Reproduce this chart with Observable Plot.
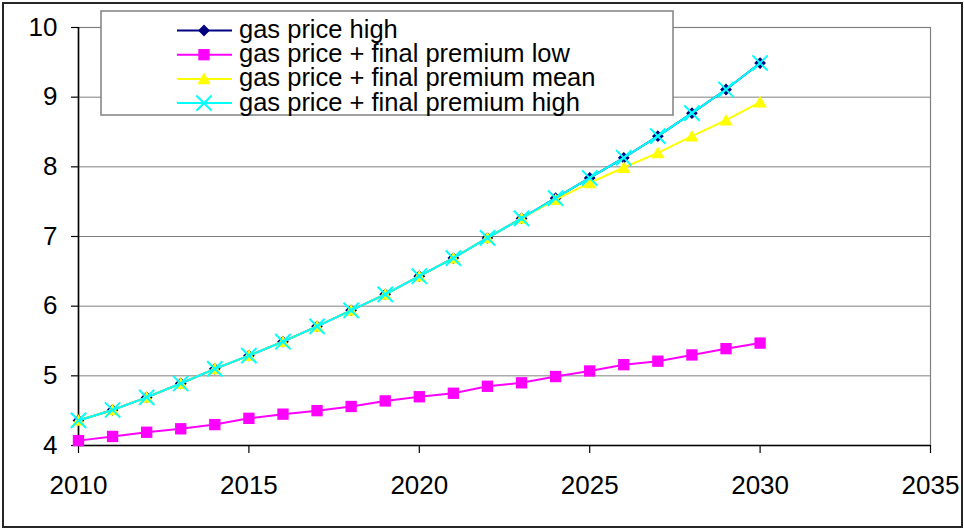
<!DOCTYPE html>
<html>
<head>
<meta charset="utf-8">
<script src="https://cdn.jsdelivr.net/npm/d3@7"></script>
<script src="https://cdn.jsdelivr.net/npm/@observablehq/plot@0.6"></script>
<style>
  html, body { margin: 0; padding: 0; background: #fff; }
  #wrap { position: relative; width: 964px; height: 529px; font-family: "Liberation Sans", Arial, sans-serif; }
  #border { position: absolute; left: 2px; top: 2px; width: 961px; height: 526px; box-sizing: border-box; border: 2px solid #262626; pointer-events: none; }
  #legend { position: absolute; left: 0; top: 0; pointer-events: none; }
</style>
</head>
<body>
<div id="wrap"><div id="chart"></div><svg id="legend" width="964" height="529"></svg><div id="border"></div></div>
<script>
const years = [2010, 2011, 2012, 2013, 2014, 2015, 2016, 2017, 2018, 2019, 2020, 2021, 2022, 2023, 2024, 2025, 2026, 2027, 2028, 2029, 2030];
const gasPriceHigh = [4.36, 4.51, 4.69, 4.89, 5.10, 5.29, 5.49, 5.71, 5.94, 6.17, 6.43, 6.69, 6.98, 7.26, 7.55, 7.84, 8.13, 8.44, 8.77, 9.11, 9.49];
const premiumLow = [4.07, 4.13, 4.19, 4.24, 4.30, 4.39, 4.45, 4.50, 4.56, 4.64, 4.70, 4.75, 4.85, 4.90, 4.99, 5.07, 5.16, 5.21, 5.30, 5.39, 5.47];
const premiumMean = [4.36, 4.51, 4.69, 4.89, 5.10, 5.29, 5.49, 5.71, 5.94, 6.17, 6.43, 6.69, 6.98, 7.26, 7.53, 7.77, 7.99, 8.20, 8.44, 8.67, 8.93];
const premiumHigh = [4.36, 4.51, 4.69, 4.89, 5.10, 5.29, 5.49, 5.71, 5.94, 6.17, 6.43, 6.69, 6.98, 7.26, 7.55, 7.84, 8.13, 8.44, 8.77, 9.11, 9.49];
const seriesNames = ["gas price high", "gas price + final premium low", "gas price + final premium mean", "gas price + final premium high"];
const xTicks = [2010, 2015, 2020, 2025, 2030, 2035];
const yTicks = [4, 5, 6, 7, 8, 9, 10];

const styles = [
  {color: "#000080", symbol: "diamond2", r: 5.3, filled: true},
  {color: "#FF00FF", symbol: "square", r: 6.4, filled: true},
  {color: "#FFFF00", symbol: "triangle", r: 5, filled: true, dy: 1.5},
  {color: "#00FFFF", symbol: "times", r: 7, filled: false}
];
const valueSets = [gasPriceHigh, premiumLow, premiumMean, premiumHigh];
const series = seriesNames.map((name, i) => ({
  name, ...styles[i],
  data: years.map((year, j) => ({year, value: valueSets[i][j]}))
}));

const marks = [
  Plot.gridY(yTicks, {stroke: "#808080", strokeOpacity: 1, strokeWidth: 1}),
  Plot.frame({stroke: "#808080", strokeWidth: 1.2}),
  Plot.ruleX([2010], {stroke: "#000", strokeWidth: 1.6}),
  Plot.ruleY([4], {stroke: "#000", strokeWidth: 1.6}),
  Plot.axisX({ticks: xTicks, tickSize: 8, tickPadding: 22, tickFormat: d => String(d), label: null, stroke: "#000", strokeWidth: 1.2}),
  Plot.axisY({ticks: yTicks, tickSize: 7, tickPadding: 14, tickFormat: d => String(d), label: null, stroke: "#000", strokeWidth: 1.2})
];
for (const s of series) {
  marks.push(Plot.line(s.data, {x: "year", y: "value", stroke: s.color, strokeWidth: 2}));
  marks.push(Plot.dot(s.data, s.filled
    ? {x: "year", y: "value", symbol: () => s.symbol, r: s.r, fill: s.color, stroke: "none", dy: s.dy || 0}
    : {x: "year", y: "value", symbol: () => s.symbol, r: s.r, fill: "none", stroke: s.color, strokeWidth: 2}));
}

const chart = Plot.plot({
  width: 964,
  height: 529,
  marginLeft: 78,
  marginRight: 34,
  marginTop: 27,
  marginBottom: 84,
  x: {domain: [2010, 2035], label: null},
  y: {domain: [4, 10], label: null},
  style: {fontSize: "26px", fontFamily: "'Liberation Sans', Arial, sans-serif", color: "#000", background: "#fff"},
  marks
});
document.getElementById("chart").appendChild(chart);

// Legend overlay
const lg = d3.select("#legend");
lg.append("rect").attr("x", 101).attr("y", 11).attr("width", 572).attr("height", 104)
  .attr("fill", "#fff").attr("stroke", "#808080").attr("stroke-width", 1.5);
const symMap = {diamond2: d3.symbolDiamond2, square: d3.symbolSquare, triangle: d3.symbolTriangle, times: d3.symbolTimes};
series.forEach((s, i) => {
  const yb = 38 + i * 24.2;
  const ym = yb - 7.5;
  const g = lg.append("g");
  g.append("line").attr("x1", 177).attr("x2", 232).attr("y1", ym).attr("y2", ym)
    .attr("stroke", s.color).attr("stroke-width", 2);
  const path = d3.symbol(symMap[s.symbol], Math.PI * s.r * s.r)();
  const p = g.append("path").attr("d", path).attr("transform", `translate(204,${ym + (s.dy || 0)})`);
  if (s.filled) p.attr("fill", s.color); else p.attr("fill", "none").attr("stroke", s.color).attr("stroke-width", 2);
  g.append("text").attr("x", 239).attr("y", yb).attr("font-size", 25.5)
    .attr("font-family", "'Liberation Sans', Arial, sans-serif").attr("fill", "#000").text(s.name);
});
</script>
</body>
</html>
